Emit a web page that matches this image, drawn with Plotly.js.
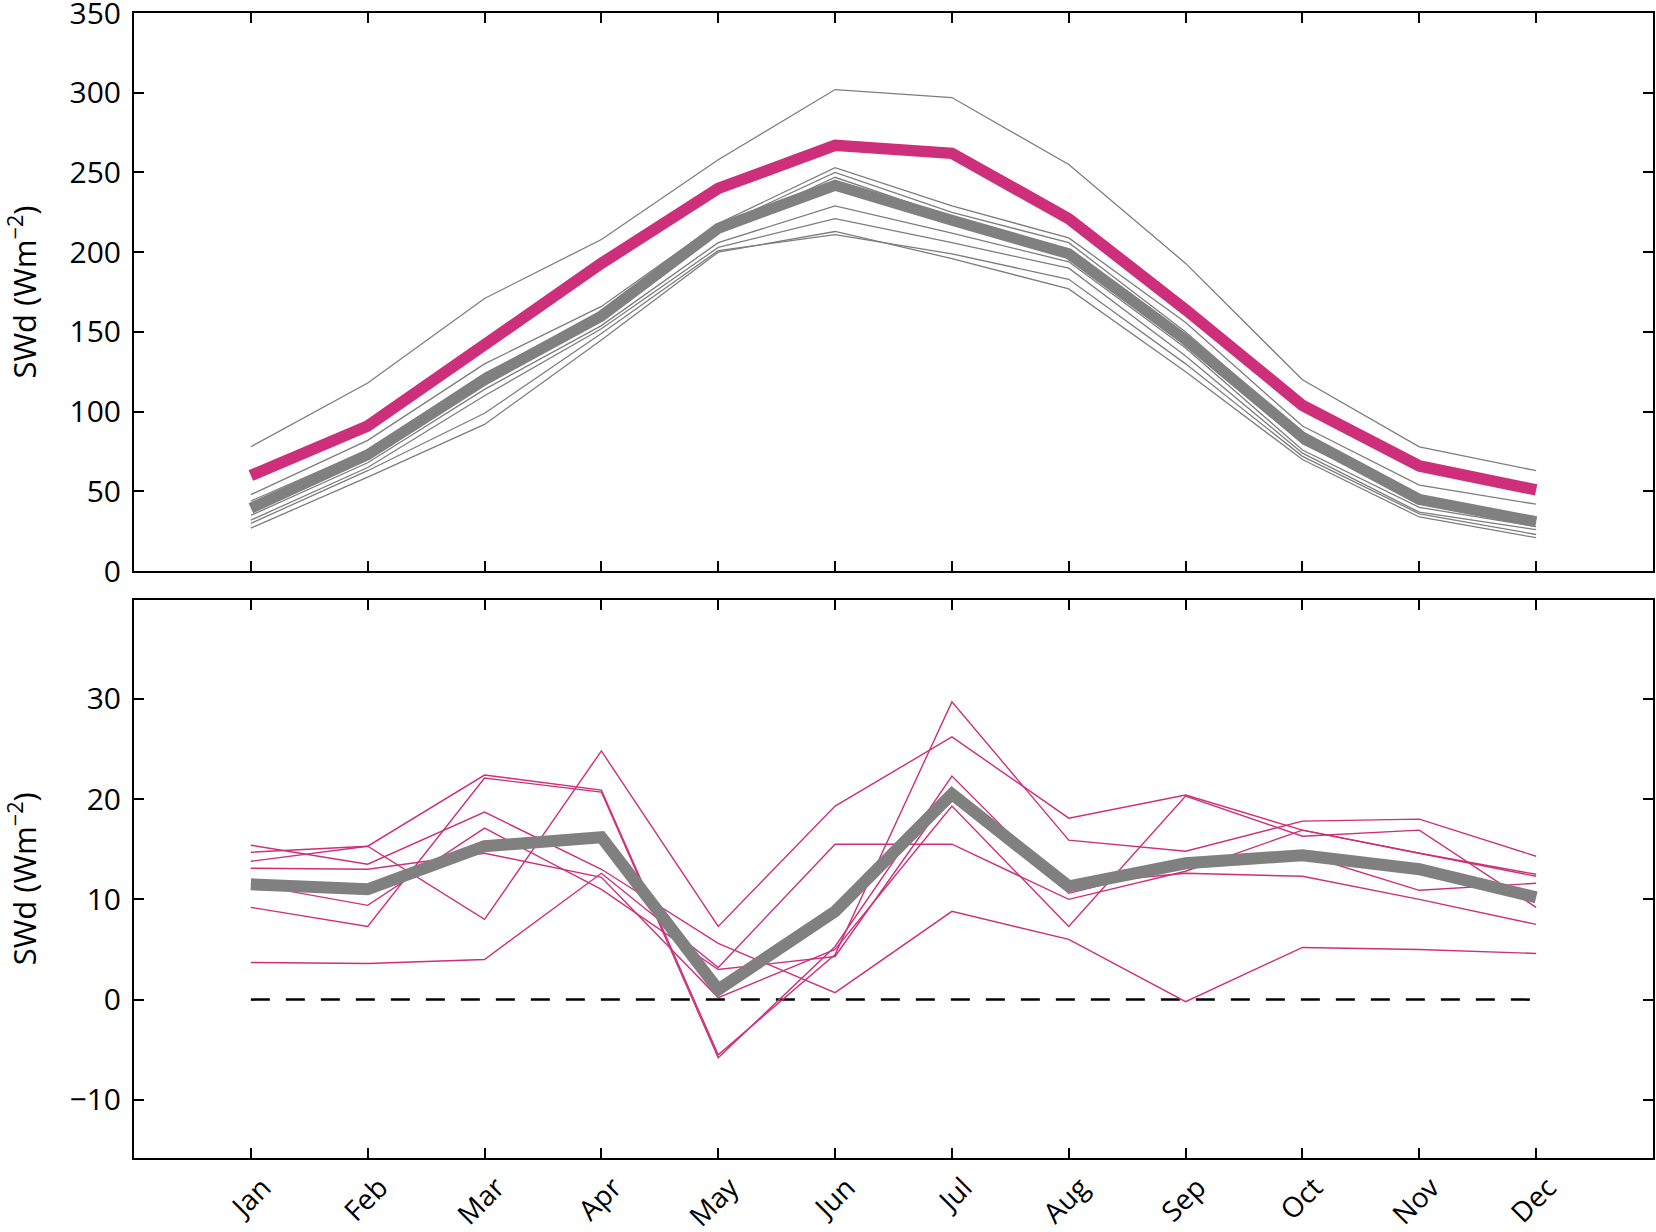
<!DOCTYPE html>
<html><head><meta charset="utf-8">
<script src="https://cdn.plot.ly/plotly-3.0.1.min.js"></script>
<style>html,body{margin:0;padding:0;background:#fff}#chart{width:1656px;height:1232px}</style>
</head><body><div id="chart"></div>
<script>
const months = ['Jan','Feb','Mar','Apr','May','Jun','Jul','Aug','Sep','Oct','Nov','Dec'];
const monthIndex = [1,2,3,4,5,6,7,8,9,10,11,12];
const topTicks = [0, 50, 100, 150, 200, 250, 300, 350];
const bottomTicks = [-10, 0, 10, 20, 30];

// Top panel: SWd (W m-2)
const pinkMean = [60, 91, 142, 193, 240, 267, 262, 221, 164, 104, 66, 51];
const grayMean = [39.5, 73, 120, 160, 215, 242, 220, 199, 145, 84, 45, 31];
const gray0 = [78, 118, 171, 208, 258, 302, 297, 255, 193, 120, 78, 63];
const gray1 = [48, 82, 130, 166, 218, 253, 229, 209, 156, 91, 54, 42];
const gray2 = [44, 76, 124, 162, 216, 250, 225, 206, 150, 86, 47, 33];
const gray3 = [40, 72, 118, 158, 213, 247, 222, 202, 146, 80, 44, 30];
const gray4 = [35, 68, 114, 154, 206, 229, 212, 194, 140, 76, 40, 28];
const gray5 = [32, 65, 110, 152, 203, 221, 206, 190, 135, 74, 37, 26];
const gray6 = [30, 63, 99, 149, 201, 211, 199, 183, 130, 72, 36, 23];
const gray7 = [27, 59, 92, 145, 200, 213, 196, 177, 125, 70, 34, 21];

// Bottom panel: SWd differences (W m-2)
const diffMean = [11.5, 11, 15.3, 16.2, 1, 8.8, 20.5, 11.3, 13.6, 14.4, 13, 10.2];
const diff1 = [3.7, 3.6, 4.0, 12.6, 3.2, 15.5, 15.5, 10.0, 12.8, 16.9, 14.6, 12.3];
const diff2 = [13.8, 15.3, 8.0, 24.8, 7.3, 19.3, 26.2, 18.1, 20.4, 16.9, 14.6, 12.5];
const diff3 = [14.7, 15.3, 22.4, 20.9, -5.5, 4.5, 29.7, 15.9, 14.8, 17.8, 18.0, 14.3];
const diff4 = [9.2, 7.3, 22.1, 20.7, -5.8, 5.3, 22.3, 10.6, 13.5, 14.5, 10.9, 11.6];
const diff5 = [15.4, 13.5, 18.7, 13.0, 5.6, 0.7, 8.8, 6.0, -0.2, 5.2, 5.0, 4.6];
const diff6 = [13.1, 13.0, 14.6, 12.2, 0.2, 5.0, 19.3, 7.3, 20.3, 16.3, 16.9, 9.2];
const diff7 = [11.5, 9.4, 17.1, 11.0, 3.0, 4.3, 20.8, 11.5, 12.6, 12.3, 10.0, 7.5];
const zeroRef = [0, 0];
const zeroX = [1, 12];

const PINK = '#cd2f7a';
const GRAY = '#808080';
const THIN = '#7d7d7d';

const traces = [];
[gray0, gray1, gray2, gray3, gray4, gray5, gray6, gray7].forEach(g => {
  traces.push({x: monthIndex, y: g, xaxis: 'x', yaxis: 'y', mode: 'lines',
    line: {color: THIN, width: 1.3}, hoverinfo: 'skip', showlegend: false});
});
traces.push({x: monthIndex, y: grayMean, xaxis: 'x', yaxis: 'y', mode: 'lines',
  line: {color: GRAY, width: 11}, showlegend: false});
traces.push({x: monthIndex, y: pinkMean, xaxis: 'x', yaxis: 'y', mode: 'lines',
  line: {color: PINK, width: 11.5}, showlegend: false});

traces.push({x: zeroX, y: zeroRef, xaxis: 'x2', yaxis: 'y2', mode: 'lines',
  line: {color: '#000', width: 2.5, dash: '19px,16px'}, showlegend: false});
[diff1, diff2, diff3, diff4, diff5, diff6, diff7].forEach(d => {
  traces.push({x: monthIndex, y: d, xaxis: 'x2', yaxis: 'y2', mode: 'lines',
    line: {color: PINK, width: 1.4}, showlegend: false});
});
traces.push({x: monthIndex, y: diffMean, xaxis: 'x2', yaxis: 'y2', mode: 'lines',
  line: {color: GRAY, width: 12}, showlegend: false});

const FONT = 'Open Sans, Noto Sans, sans-serif';
const axisCommon = {
  showline: true, linecolor: '#000', linewidth: 2, mirror: 'ticks',
  ticks: 'inside', ticklen: 10, tickwidth: 2, tickcolor: '#000',
  showgrid: false, zeroline: false,
  tickfont: {family: FONT, size: 30, color: '#000'}
};
const yTitle = {text: 'SWd (Wm<sup>\u22122</sup>)', font: {family: FONT, size: 31, color: '#000'}, standoff: 38};

const layout = {
  width: 1656, height: 1232,
  margin: {l: 134, r: 3, t: 13, b: 74},
  paper_bgcolor: '#fff', plot_bgcolor: '#fff',
  showlegend: false,
  xaxis: Object.assign({}, axisCommon, {
    domain: [0, 1], anchor: 'y', range: [0, 13],
    tickvals: monthIndex, ticktext: months, showticklabels: false
  }),
  yaxis: Object.assign({}, axisCommon, {
    domain: [0.5125, 1], anchor: 'x', range: [0, 350],
    tickvals: topTicks, ticklabelstandoff: 5, ticklabeloverflow: 'allow',
    title: yTitle
  }),
  xaxis2: Object.assign({}, axisCommon, {
    domain: [0, 1], anchor: 'y2', range: [0, 13],
    tickvals: monthIndex, ticktext: months, tickangle: -45, ticklabelshift: 12,
    tickfont: {family: FONT, size: 28, color: '#000'}
  }),
  yaxis2: Object.assign({}, axisCommon, {
    domain: [0, 0.4877], anchor: 'x2', range: [-15.8, 39.9],
    tickvals: bottomTicks, ticklabelstandoff: 5,
    title: yTitle
  })
};

Plotly.newPlot('chart', traces, layout, {displayModeBar: false, staticPlot: true});
</script>
</body></html>
